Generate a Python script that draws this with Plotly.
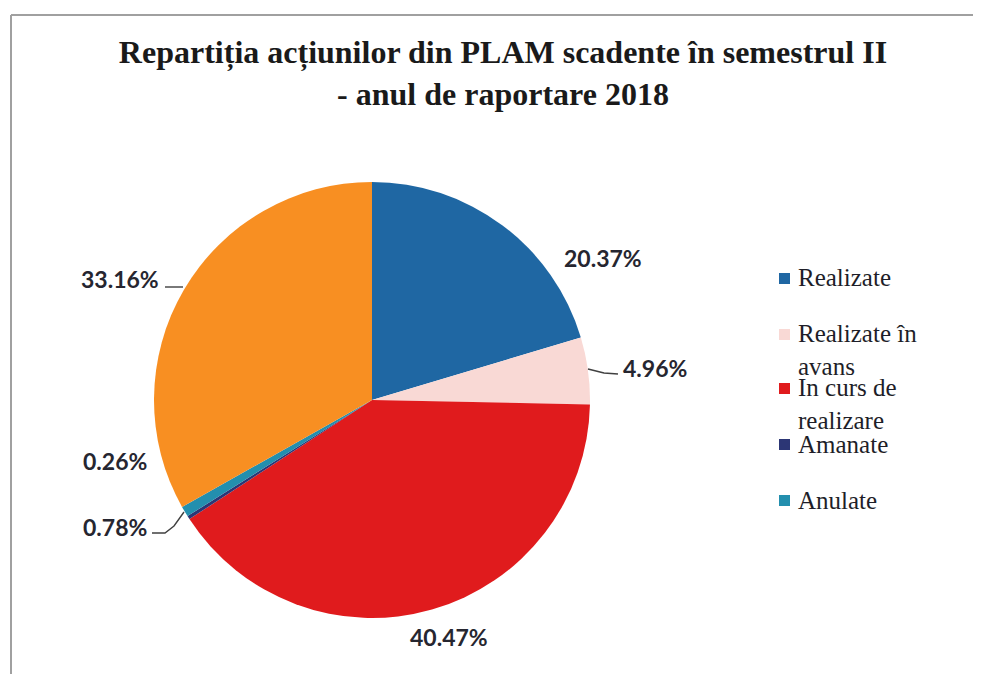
import plotly.graph_objects as go

W, H = 981, 674

# data, clockwise from 12 o'clock
labels = ["Realizate", "Realizate în avans", "In curs de realizare",
          "Amanate", "Anulate", "Nerealizate"]
values = [20.37, 4.96, 40.47, 0.26, 0.78, 33.16]
colors = ["#1f67a3", "#f9d9d5", "#e01b1d", "#2c3675", "#238fae", "#f88f22"]

# legend entries shown (the orange slice has no entry in the original)
legend_text = ["Realizate", "Realizate în<br>avans", "In curs de<br>realizare",
               "Amanate", "Anulate"]

OFF = 8  # page body margin


def px_x(x):
    return (x - OFF) / W


def px_y(y):
    return 1 - (y - OFF) / H


# pie placement in page pixels
cx, cy, r = 372, 400, 218

fig = go.Figure(go.Pie(
    labels=labels, values=values, sort=False, direction="clockwise",
    marker=dict(colors=colors, line=dict(width=0)),
    textinfo="none", hoverinfo="label+percent", showlegend=False,
    domain=dict(x=[px_x(cx - r), px_x(cx + r)],
                y=[px_y(cy + r), px_y(cy - r)]),
))

# data labels: text centre positions and optional leader lines (pixels)
label_pos = [(603, 258), (655, 368), (449, 637), (115, 461), (115, 527), (120, 279)]
leaders = [None, [(588, 369), (604, 373), (618, 374)], None, None,
           [(184, 512), (174, 526), (165, 533), (152, 533)],
           [(165, 287), (183, 287)]]

annotations = []
shapes = []
for v, (x, y), ld in zip(values, label_pos, leaders):
    annotations.append(dict(
        x=px_x(x), y=px_y(y), xref="paper", yref="paper", showarrow=False,
        xanchor="center", yanchor="middle",
        text=f"<b>{v:.2f}%</b>",
        font=dict(family="Lato, Open Sans, sans-serif", size=23, color="#262630"),
    ))
    if ld:
        path = "M " + " L ".join(f"{px_x(a)},{px_y(b)}" for a, b in ld)
        shapes.append(dict(type="path", xref="paper", yref="paper", path=path,
                           line=dict(color="#404040", width=1.4)))

# custom legend (centre y of each entry, pixels)
leg_y = [278, 350, 404, 444, 500]
for txt, col, y in zip(legend_text, colors, leg_y):
    n = txt.count("<br>") + 1
    first = y - (n - 1) * 16
    annotations.append(dict(
        x=px_x(796), y=px_y(y), xref="paper", yref="paper",
        xanchor="left", yanchor="middle", align="left", showarrow=False,
        text=txt, font=dict(family="Liberation Serif, serif", size=25, color="#1e1e28"),
    ))
    shapes.append(dict(type="rect", xref="paper", yref="paper",
                       x0=px_x(779), x1=px_x(790), y0=px_y(first + 6), y1=px_y(first - 5),
                       fillcolor=col, line=dict(width=0)))

# frame: top and left edges only
for x0, y0, x1, y1 in [(11, 15, 995, 15), (11, 15, 11, 690)]:
    shapes.append(dict(type="line", xref="paper", yref="paper",
                       x0=px_x(x0), y0=px_y(y0), x1=px_x(x1), y1=px_y(y1),
                       line=dict(color="#a0a0a0", width=2)))

fig.update_layout(
    width=W, height=H,
    margin=dict(l=0, r=0, t=0, b=0),
    paper_bgcolor="white", plot_bgcolor="white",
    title=dict(
        text="<b>Repartiția acțiunilor din PLAM scadente în semestrul II<br>- anul de raportare 2018</b>",
        x=px_x(503), xanchor="center", y=px_y(63), yanchor="top",
        font=dict(family="Liberation Serif, serif", size=32, color="#1a1a1a"),
    ),
    annotations=annotations,
    shapes=shapes,
)

fig.write_html("out.html")
